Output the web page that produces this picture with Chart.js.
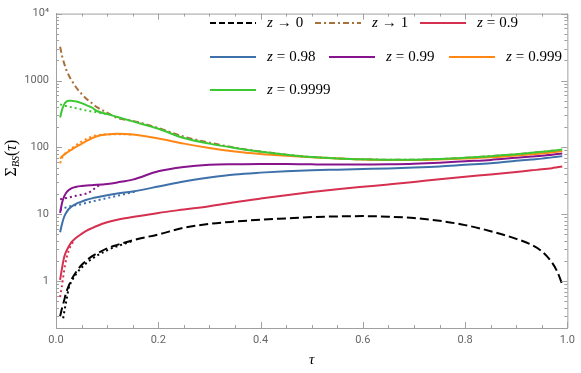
<!DOCTYPE html>
<html>
<head>
<meta charset="utf-8">
<script src="https://cdn.jsdelivr.net/npm/chart.js@4.4.0/dist/chart.umd.min.js"></script>
<style>
  html, body { margin: 0; padding: 0; background: #fff; }
</style>
</head>
<body>
<canvas id="myChart" width="581" height="373"></canvas>
<script>
// tau grid shared by the full curves
const tau = [0.008, 0.012, 0.016, 0.02, 0.025, 0.03, 0.04, 0.05, 0.06, 0.07, 0.08, 0.1, 0.12, 0.15,
  0.2, 0.25, 0.3, 0.35, 0.4, 0.45, 0.5, 0.55, 0.6, 0.65, 0.7, 0.75, 0.8, 0.85, 0.9, 0.93, 0.95, 0.97, 0.98, 0.99];

const zTo0 = [0.3, 0.4, 0.52, 0.68, 0.86, 1.05, 1.4, 1.75, 2.05, 2.35, 2.6, 3.1, 3.5, 4.1,
  5.0, 6.3, 7.2, 7.8, 8.3, 8.7, 9.1, 9.3, 9.4, 9.2, 8.8, 8.0, 6.9, 5.6, 4.3, 3.5, 2.8, 1.9, 1.4, 0.9];
const zTo1 = [3200, 2300, 1800, 1450, 1200, 1020, 780, 630, 530, 460, 400, 330, 275, 250,
  195, 145, 118, 99, 87, 78, 72, 68.5, 66.5, 65.5, 65.5, 67, 70, 74, 79, 83, 86, 89, 91, 93];
const z09 = [1.05, 1.6, 2.3, 2.8, 3.3, 3.8, 4.5, 5.1, 5.7, 6.2, 6.7, 7.6, 8.3, 9.1,
  10.5, 11.8, 13.2, 15.2, 17.2, 19.3, 21.5, 23.7, 25.8, 28, 30.5, 33.5, 36.5, 39.5, 43, 45.5, 47, 49, 50.5, 52];
const z098 = [5.4, 7.3, 9.2, 10.6, 12, 13, 14.5, 15.5, 16.5, 17.3, 18, 19.3, 20.5, 22,
  26, 31, 35.5, 39.5, 42, 44, 45.5, 46.5, 47.5, 48.5, 50, 52, 55, 58, 63, 66, 68, 71, 72.5, 74];
const z099 = [10.5, 15, 18.5, 21, 23, 24.5, 25.8, 26.5, 27, 27.3, 27.6, 28.5, 30, 33,
  44, 51, 55, 56, 56.5, 56.3, 55.8, 55.5, 55.5, 56, 57, 59, 62, 65, 70, 73, 75, 78, 79.5, 81];
const z0999 = [68, 74, 78, 82, 87, 92, 103, 113, 125, 137, 147, 156, 160, 156,
  136, 114, 98, 87, 80, 75, 71, 68, 66, 65, 65, 66, 68, 71, 76, 79, 81, 84, 86, 88];
const z09999 = [280, 370, 440, 480, 500, 500, 485, 460, 425, 395, 350, 315, 285, 245,
  190, 138, 114, 98, 86, 78, 72, 68.5, 66.5, 65.5, 65.5, 67, 70, 74, 79, 83, 86, 89, 91, 93];

// dotted approximations near tau -> 0
const tauApproxZ0 = [0.014, 0.017, 0.02, 0.025, 0.03, 0.04, 0.05, 0.07, 0.1, 0.15];
const approxZ0 = [0.28, 0.38, 0.5, 0.8, 0.98, 1.3, 1.6, 2.15, 2.9, 4.0];
const tauApprox09 = [0.008, 0.011, 0.014, 0.018, 0.025, 0.035];
const approx09 = [0.58, 0.8, 1.15, 1.8, 2.9, 4.1];
const tauApprox098 = [0.008, 0.012, 0.02, 0.03, 0.05, 0.07, 0.1, 0.13, 0.16];
const approx098 = [11.5, 12, 12.7, 13.3, 14.2, 15.5, 17.5, 19.7, 22.3];
const tauApprox099 = [0.008, 0.02, 0.04, 0.06, 0.07, 0.08, 0.09];
const approx099 = [16.8, 17.5, 19, 20.5, 22.5, 26, 28];
const tauApprox0999 = [0.008, 0.012, 0.02, 0.03, 0.05, 0.07, 0.09, 0.12, 0.15];
const approx0999 = [58, 70, 84, 96, 122, 145, 155, 158, 156];
const tauApprox09999 = [0.008, 0.02, 0.04, 0.06, 0.08, 0.1];
const approx09999 = [440, 415, 385, 355, 335, 315];

const yTickValues = [1, 10, 100, 1000, 10000];
const yTickLabels = ['1', '10', '100', '1000', '10\u2074'];
const xTickValues = [0, 0.2, 0.4, 0.6, 0.8, 1.0];

const colors = {
  z0: '#000000',
  z1: '#a8703a',
  r: 'rgb(214,48,80)',
  b: 'rgb(62,112,170)',
  p: 'rgb(135,20,140)',
  o: 'rgb(255,135,20)',
  g: 'rgb(60,200,50)'
};

function pts(xs, ys) {
  return xs.map((t, i) => ({ x: t, y: ys[i] }));
}

function curve(xs, ys, color, dash, order) {
  return {
    data: pts(xs, ys),
    borderColor: color,
    borderWidth: 2,
    borderDash: dash,
    pointRadius: 0,
    fill: false,
    cubicInterpolationMode: 'monotone',
    order: order
  };
}

const dotted = [2, 3];
const datasets = [
  curve(tauApproxZ0, approxZ0, colors.z0, dotted, 20),
  curve(tauApprox09, approx09, colors.r, dotted, 20),
  curve(tauApprox098, approx098, colors.b, dotted, 20),
  curve(tauApprox099, approx099, colors.p, dotted, 20),
  curve(tauApprox0999, approx0999, colors.o, dotted, 20),
  curve(tauApprox09999, approx09999, colors.g, dotted, 20),
  curve(tau, zTo0, colors.z0, [9, 4], 7),
  curve(tau, zTo1, colors.z1, [6, 3, 2, 3], 6),
  curve(tau, z09, colors.r, [], 5),
  curve(tau, z098, colors.b, [], 4),
  curve(tau, z099, colors.p, [], 3),
  curve(tau, z0999, colors.o, [], 2),
  curve(tau, z09999, colors.g, [], 1)
];

const legendItems = [
  { color: colors.z0, dash: [6, 3], rel: '\u2192', val: '0', x: 210, y: 23 },
  { color: colors.z1, dash: [6, 3, 2, 3], rel: '\u2192', val: '1', x: 315, y: 23 },
  { color: colors.r, dash: [], rel: '=', val: '0.9', x: 420, y: 23 },
  { color: colors.b, dash: [], rel: '=', val: '0.98', x: 210, y: 57 },
  { color: colors.p, dash: [], rel: '=', val: '0.99', x: 329, y: 57 },
  { color: colors.o, dash: [], rel: '=', val: '0.999', x: 449, y: 57 },
  { color: colors.g, dash: [], rel: '=', val: '0.9999', x: 210, y: 90 }
];

const serif = '"Liberation Serif", "DejaVu Serif", serif';

const framePlugin = {
  id: 'frame',
  afterDraw(chart) {
    const ctx = chart.ctx;
    const a = chart.chartArea;
    const xs = chart.scales.x;
    const ys = chart.scales.y;
    ctx.save();
    ctx.strokeStyle = '#a0a0a0';
    ctx.lineWidth = 1;
    ctx.setLineDash([]);
    ctx.beginPath();
    ctx.moveTo(a.left, a.top + 0.5);
    ctx.lineTo(a.right + 0.5, a.top + 0.5);
    ctx.lineTo(a.right + 0.5, a.bottom);
    ctx.stroke();
    // x ticks every 0.05, inward on bottom and top
    ctx.beginPath();
    for (let i = 0; i <= 20; i++) {
      const px = Math.round(xs.getPixelForValue(i * 0.05)) + 0.5;
      const len = i % 4 === 0 ? 6 : 3;
      ctx.moveTo(px, a.bottom);
      ctx.lineTo(px, a.bottom - len);
      ctx.moveTo(px, a.top);
      ctx.lineTo(px, a.top + len);
    }
    // y ticks, decades and minor
    for (let d = -1; d <= 4; d++) {
      for (let m = 1; m <= 9; m++) {
        const v = m * Math.pow(10, d);
        if (v < 0.2 || v > 10000) continue;
        const py = Math.round(ys.getPixelForValue(v)) + 0.5;
        const len = m === 1 ? 6 : 3;
        ctx.moveTo(a.left, py);
        ctx.lineTo(a.left + len, py);
        ctx.moveTo(a.right, py);
        ctx.lineTo(a.right - len, py);
      }
    }
    ctx.stroke();

    // legend
    ctx.textBaseline = 'middle';
    legendItems.forEach(it => {
      ctx.strokeStyle = it.color;
      ctx.lineWidth = 2;
      ctx.setLineDash(it.dash);
      ctx.beginPath();
      ctx.moveTo(it.x, it.y);
      ctx.lineTo(it.x + 46, it.y);
      ctx.stroke();
      ctx.setLineDash([]);
      ctx.fillStyle = '#000';
      let tx = it.x + 57;
      ctx.font = 'italic 15px ' + serif;
      ctx.fillText('z', tx, it.y);
      tx += ctx.measureText('z').width + 4;
      ctx.font = '15px ' + serif;
      ctx.fillText(it.rel, tx, it.y);
      tx += ctx.measureText(it.rel).width + 4;
      ctx.fillText(it.val, tx, it.y);
    });

    // axis titles
    ctx.fillStyle = '#000';
    ctx.font = 'italic 15px ' + serif;
    ctx.textAlign = 'center';
    ctx.fillText('\u03c4', (a.left + a.right) / 2, 360);

    ctx.translate(12, 158);
    ctx.rotate(-Math.PI / 2);
    ctx.textAlign = 'left';
    const parts = [
      { t: '\u03a3', f: '16px ' + serif, dy: 0 },
      { t: 'BS', f: 'italic 10px ' + serif, dy: 4 },
      { t: '(', f: '16px ' + serif, dy: 0 },
      { t: '\u03c4', f: 'italic 16px ' + serif, dy: 0 },
      { t: ')', f: '16px ' + serif, dy: 0 }
    ];
    let total = 0;
    parts.forEach(p => { ctx.font = p.f; p.w = ctx.measureText(p.t).width; total += p.w; });
    let cx = -total / 2;
    parts.forEach(p => {
      ctx.font = p.f;
      ctx.fillText(p.t, cx, p.dy);
      cx += p.w;
    });
    ctx.restore();
  }
};

new Chart(document.getElementById('myChart'), {
  type: 'line',
  data: { datasets: datasets },
  options: {
    responsive: false,
    animation: false,
    devicePixelRatio: 1,
    layout: { padding: { top: 8, right: 11, left: 0, bottom: 0 } },
    plugins: { legend: { display: false }, tooltip: { enabled: false } },
    scales: {
      x: {
        type: 'linear',
        min: 0,
        max: 1,
        afterBuildTicks: s => { s.ticks = xTickValues.map(v => ({ value: v })); },
        afterFit: s => { s.height = 45; },
        grid: { display: true, drawOnChartArea: false, drawTicks: false },
        border: { display: true, color: '#a0a0a0' },
        ticks: {
          padding: 6,
          color: '#666',
          font: { family: 'Roboto, "Liberation Sans", sans-serif', size: 11 },
          callback: v => Number(v).toFixed(1)
        }
      },
      y: {
        type: 'logarithmic',
        min: 0.2,
        max: 10000,
        afterBuildTicks: s => { s.ticks = yTickValues.map(v => ({ value: v })); },
        afterFit: s => { s.width = 56; },
        grid: { display: true, drawOnChartArea: false, drawTicks: false },
        border: { display: true, color: '#a0a0a0' },
        ticks: {
          padding: 7,
          color: '#666',
          font: { family: 'Roboto, "Liberation Sans", sans-serif', size: 11 },
          callback: v => {
            const i = yTickValues.indexOf(v);
            return i >= 0 ? yTickLabels[i] : '';
          }
        }
      }
    }
  },
  plugins: [framePlugin]
});
</script>
</body>
</html>
